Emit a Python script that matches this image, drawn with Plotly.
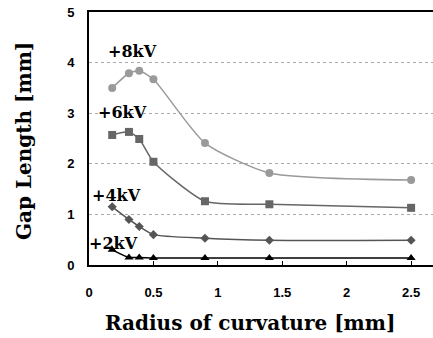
import plotly.graph_objects as go

radius = [0.18, 0.31, 0.39, 0.5, 0.9, 1.4, 2.5]
gap_8kv = [3.50, 3.79, 3.84, 3.67, 2.41, 1.82, 1.68]
gap_6kv = [2.57, 2.63, 2.49, 2.04, 1.26, 1.20, 1.13]
gap_4kv = [1.15, 0.90, 0.76, 0.60, 0.53, 0.49, 0.49]
gap_2kv = [0.30, 0.15, 0.15, 0.14, 0.14, 0.14, 0.14]
labels = ["+8kV", "+6kV", "+4kV", "+2kV"]
label_x = [0.34, 0.26, 0.21, 0.19]
label_y = [4.21, 3.02, 1.38, 0.43]

series = [
    (gap_8kv, "circle", "#9a9a9a", 8),
    (gap_6kv, "square", "#666666", 8),
    (gap_4kv, "diamond", "#555555", 7),
    (gap_2kv, "triangle-up", "#000000", 8),
]

fig = go.Figure()
for (vals, sym, col, sz), name in zip(series, labels):
    fig.add_trace(go.Scatter(
        x=radius, y=vals, mode="lines+markers", name=name,
        line=dict(color=col, width=1.5, shape="spline", smoothing=0.6),
        marker=dict(symbol=sym, color=col, size=sz),
        showlegend=False,
    ))

serif = "DejaVu Serif"
for t, xx, yy in zip(labels, label_x, label_y):
    fig.add_annotation(x=xx, y=yy, text="<b>%s</b>" % t, showarrow=False,
                       font=dict(family=serif, size=16, color="black"))

# axis titles
fig.add_annotation(x=(250 - 89) / 344, y=(265 - 323) / 253, xref="paper", yref="paper",
                   text="<b>Radius of curvature [mm]</b>", showarrow=False,
                   xanchor="center", yanchor="middle",
                   font=dict(family=serif, size=20, color="black"))
fig.add_annotation(x=(24 - 89) / 344, y=(265 - 141) / 253, xref="paper", yref="paper",
                   text="<b>Gap Length [mm]</b>", showarrow=False, textangle=-90,
                   xanchor="center", yanchor="middle",
                   font=dict(family=serif, size=20, color="black"))

fig.update_layout(
    width=433, height=338,
    margin=dict(l=89, r=0, t=12, b=73),
    paper_bgcolor="white", plot_bgcolor="white",
    xaxis=dict(
        range=[0, 2.67], tickvals=[0, 0.5, 1, 1.5, 2, 2.5],
        ticktext=["0", "0.5", "1", "1.5", "2", "2.5"],
        showline=True, linecolor="black", linewidth=2, mirror=True,
        ticks="inside", ticklen=4, tickcolor="black",
        showgrid=False, zeroline=False,
        ticklabelstandoff=14,
        tickfont=dict(family="Liberation Sans", size=13, color="black", weight="bold"),
    ),
    yaxis=dict(
        range=[0, 5], tickvals=[0, 1, 2, 3, 4, 5],
        showline=True, linecolor="black", linewidth=2, mirror=False,
        ticks="", showgrid=True, gridcolor="#aaaaaa", griddash="dot", gridwidth=1,
        zeroline=False, ticklabelstandoff=10,
        tickfont=dict(family="Liberation Sans", size=13, color="black", weight="bold"),
    ),
)

fig.write_html("out.html")
